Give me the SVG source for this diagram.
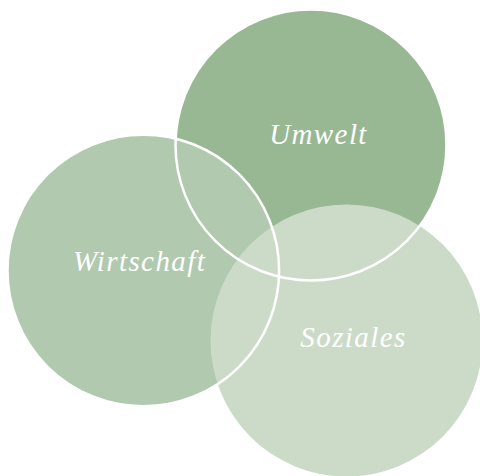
<svg xmlns="http://www.w3.org/2000/svg" width="480" height="476" viewBox="0 0 480 476">
<style>
.lbl{font-family:"Liberation Serif",serif;font-style:italic;font-weight:normal;font-size:29px;fill:#ffffff;letter-spacing:1.4px;text-anchor:middle}
.ring{fill:none;stroke:#ffffff;stroke-width:2.5}
</style>
<rect width="480" height="476" fill="#ffffff"/>
<g id="umwelt">
<circle cx="311" cy="145" r="135.5" fill="#98b894"/>
</g>
<g id="wirtschaft">
<circle cx="143.3" cy="270.5" r="135.8" fill="#b0c9af"/>
</g>
<g id="soziales">
<circle cx="346.5" cy="340.5" r="136" fill="#cbdbc8"/>
</g>
<g id="connectors">
<circle class="ring" cx="311" cy="145" r="135.5"/>
<circle class="ring" cx="143.3" cy="270.5" r="135.8"/>
</g>
<text class="lbl" x="318.5" y="144">Umwelt</text>
<text class="lbl" x="139.5" y="271">Wirtschaft</text>
<text class="lbl" x="353.5" y="347">Soziales</text>
</svg>
